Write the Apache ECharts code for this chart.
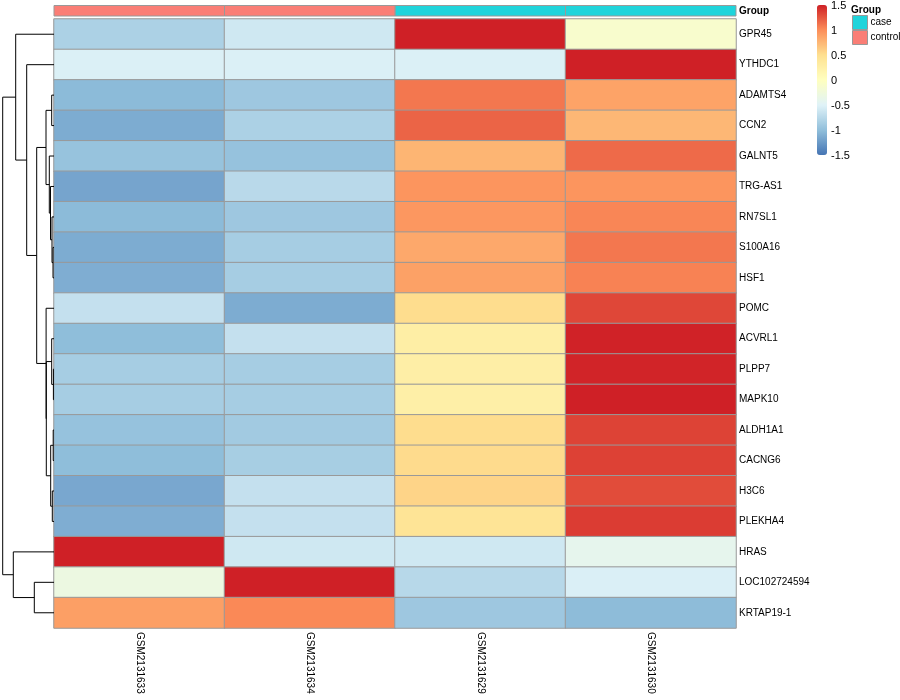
<!DOCTYPE html>
<html>
<head>
<meta charset="utf-8">
<script src="https://cdn.jsdelivr.net/npm/echarts@6/dist/echarts.min.js"></script>
<style>
html,body{margin:0;padding:0;background:#fff;}
#chart{width:900px;height:700px;}
</style>
</head>
<body>
<div id="chart"></div>
<script>
// ---- data ----
const samples = ['GSM2131633', 'GSM2131634', 'GSM2131629', 'GSM2131630'];
const sampleGroup = ['control', 'control', 'case', 'case'];
const groupLevels = ['case', 'control'];
const genes = ['GPR45', 'YTHDC1', 'ADAMTS4', 'CCN2', 'GALNT5', 'TRG-AS1', 'RN7SL1', 'S100A16', 'HSF1', 'POMC',
  'ACVRL1', 'PLPP7', 'MAPK10', 'ALDH1A1', 'CACNG6', 'H3C6', 'PLEKHA4', 'HRAS', 'LOC102724594', 'KRTAP19-1'];
// row-scaled expression (z-score), one array per sample, in gene order
const zGSM2131633 = [-0.83, -0.53, -1.03, -1.13, -0.96, -1.18, -1.03, -1.13, -1.12, -0.68,
  -1.01, -0.87, -0.87, -0.97, -1.01, -1.16, -1.12, 1.5, -0.30, 0.89];
const zGSM2131634 = [-0.61, -0.53, -0.92, -0.83, -0.97, -0.75, -0.92, -0.87, -0.87, -1.13,
  -0.68, -0.87, -0.87, -0.89, -0.86, -0.68, -0.68, -0.61, 1.5, 1.02];
const zGSM2131629 = [1.5, -0.53, 1.10, 1.19, 0.76, 0.95, 0.94, 0.84, 0.88, 0.52,
  0.28, 0.27, 0.26, 0.52, 0.53, 0.57, 0.44, -0.61, -0.76, -0.92];
const zGSM2131630 = [-0.12, 1.5, 0.87, 0.75, 1.16, 0.95, 1.03, 1.10, 1.05, 1.32,
  1.49, 1.48, 1.5, 1.34, 1.35, 1.30, 1.37, -0.40, -0.54, -1.02];
// row dendrogram: [childA, childB, merge height]; 'mN' refers to merge N
const rowMerges = [
  ['ADAMTS4', 'CCN2', 2.3],
  ['S100A16', 'HSF1', 1.0],
  ['RN7SL1', 'm1', 2.0],
  ['TRG-AS1', 'm2', 3.5],
  ['GALNT5', 'm3', 4.7],
  ['m0', 'm4', 8.0],
  ['PLPP7', 'MAPK10', 0.6],
  ['ACVRL1', 'm6', 2.3],
  ['ALDH1A1', 'CACNG6', 0.8],
  ['H3C6', 'PLEKHA4', 1.7],
  ['m8', 'm9', 3.3],
  ['m7', 'm10', 7.7],
  ['POMC', 'm11', 7.9],
  ['m5', 'm12', 17.3],
  ['YTHDC1', 'm13', 27.3],
  ['GPR45', 'm14', 38.3],
  ['LOC102724594', 'KRTAP19-1', 19.7],
  ['HRAS', 'm16', 40.7],
  ['m15', 'm17', 51.3]
];
const legendTicks = [-1.5, -1, -0.5, 0, 0.5, 1, 1.5];
const heatColors = ['#4575B4', '#91BFDB', '#E0F3F8', '#FFFFBF', '#FEE090', '#FC8D59', '#CF2026'];
const groupColors = { case: '#1FD4DB', control: '#FA7E76' };

// ---- build ----
const sampleValues = [zGSM2131633, zGSM2131634, zGSM2131629, zGSM2131630];
const heatData = [];
sampleValues.forEach((arr, xi) => arr.forEach((v, yi) => heatData.push([xi, yi, v])));

const nodes = [];
function nodeOf(ref) {
  if (typeof ref === 'string' && /^m\d+$/.test(ref)) return nodes[+ref.slice(1)];
  return { y: genes.indexOf(ref), h: 0 };
}
const dendroData = [];
rowMerges.forEach(m => {
  const a = nodeOf(m[0]), b = nodeOf(m[1]);
  const n = { y: (a.y + b.y) / 2, h: m[2] };
  nodes.push(n);
  dendroData.push([m[2], a.y, a.h, b.y, b.h]);
});

const font = 'Liberation Sans, Arial, sans-serif';
const annoSeries = groupLevels.map(g => ({
  name: g,
  type: 'custom',
  xAxisIndex: 2, yAxisIndex: 2,
  itemStyle: { color: groupColors[g] },
  data: samples.map((s, i) => [i, 0, sampleGroup[i]]).filter(d => d[2] === g).map(d => [d[0], d[1]]),
  renderItem: function (params, api) {
    const c = api.coord([api.value(0), api.value(1)]);
    const sz = api.size([1, 1]);
    return {
      type: 'rect',
      shape: { x: c[0] - sz[0] / 2, y: c[1] - sz[1] / 2, width: sz[0], height: sz[1] },
      style: { fill: groupColors[g], stroke: '#999999', lineWidth: 1 }
    };
  },
  silent: true
}));

const option = {
  animation: false,
  textStyle: { fontFamily: font },
  title: [{
    text: 'Group', left: 851, top: 5, padding: 0,
    textStyle: { fontSize: 10, fontWeight: 'bold', color: '#000', fontFamily: font }
  }],
  legend: {
    data: groupLevels, orient: 'vertical', left: 852, top: 15, padding: 0,
    itemWidth: 15, itemHeight: 14, itemGap: 0, icon: 'rect', selectedMode: false,
    itemStyle: { borderColor: '#999999', borderWidth: 1 },
    textStyle: { fontSize: 10, color: '#000', fontFamily: font, padding: [0, 0, 0, -2] }
  },
  grid: [
    { left: 54, top: 19, width: 682, height: 609 },
    { left: 2, top: 19, width: 52, height: 609 },
    { left: 54, top: 5.5, width: 682, height: 10.5 },
    { left: 817, top: 6, width: 10, height: 150 }
  ],
  xAxis: [
    { type: 'category', gridIndex: 0, data: samples, position: 'bottom',
      axisLine: { show: false }, axisTick: { show: false }, splitLine: { show: false },
      axisLabel: { rotate: -90, fontSize: 10, color: '#000', margin: 4, fontFamily: font } },
    { type: 'value', gridIndex: 1, min: 0, max: 52, inverse: true, show: false },
    { type: 'category', gridIndex: 2, data: samples, show: false },
    { type: 'value', gridIndex: 3, min: 0, max: 1, show: false }
  ],
  yAxis: [
    { type: 'category', gridIndex: 0, data: genes, inverse: true, position: 'right',
      axisLine: { show: false }, axisTick: { show: false }, splitLine: { show: false },
      axisLabel: { fontSize: 10, color: '#000', margin: 3, fontFamily: font } },
    { type: 'value', gridIndex: 1, min: -0.5, max: genes.length - 0.5, inverse: true, show: false },
    { type: 'category', gridIndex: 2, data: ['Group'], position: 'right',
      axisLine: { show: false }, axisTick: { show: false },
      axisLabel: { fontSize: 10, color: '#000', fontWeight: 'bold', margin: 3, fontFamily: font } },
    { type: 'value', gridIndex: 3, min: legendTicks[0], max: legendTicks[legendTicks.length - 1],
      interval: 0.5, position: 'right',
      axisLine: { show: false }, axisTick: { show: false }, splitLine: { show: false },
      axisLabel: { fontSize: 11, color: '#000', margin: 4, fontFamily: font } }
  ],
  visualMap: {
    type: 'continuous', seriesIndex: 0, min: -1.5, max: 1.5, calculable: false,
    orient: 'vertical', left: 817, top: 5, itemWidth: 10, itemHeight: 150, padding: 0,
    text: null, hoverLink: false,
    inRange: { color: heatColors }
  },
  series: [
    {
      type: 'heatmap', xAxisIndex: 0, yAxisIndex: 0, data: heatData,
      itemStyle: { borderColor: '#999999', borderWidth: 1 },
      emphasis: { disabled: true }, silent: true
    },
    {
      type: 'custom', xAxisIndex: 1, yAxisIndex: 1, data: dendroData, clip: false, silent: true,
      dimensions: ['h', 'y1', 'h1', 'y2', 'h2'],
      encode: { x: 0, y: 1 },
      renderItem: function (params, api) {
        const h = api.value(0), y1 = api.value(1), h1 = api.value(2), y2 = api.value(3), h2 = api.value(4);
        const pts = [api.coord([h1, y1]), api.coord([h, y1]), api.coord([h, y2]), api.coord([h2, y2])];
        return { type: 'polyline', shape: { points: pts }, style: { stroke: '#000', fill: null, lineWidth: 1 } };
      }
    }
  ].concat(annoSeries)
};

const chart = echarts.init(document.getElementById('chart'), null, { renderer: 'canvas' });
chart.setOption(option);
</script>
</body>
</html>
